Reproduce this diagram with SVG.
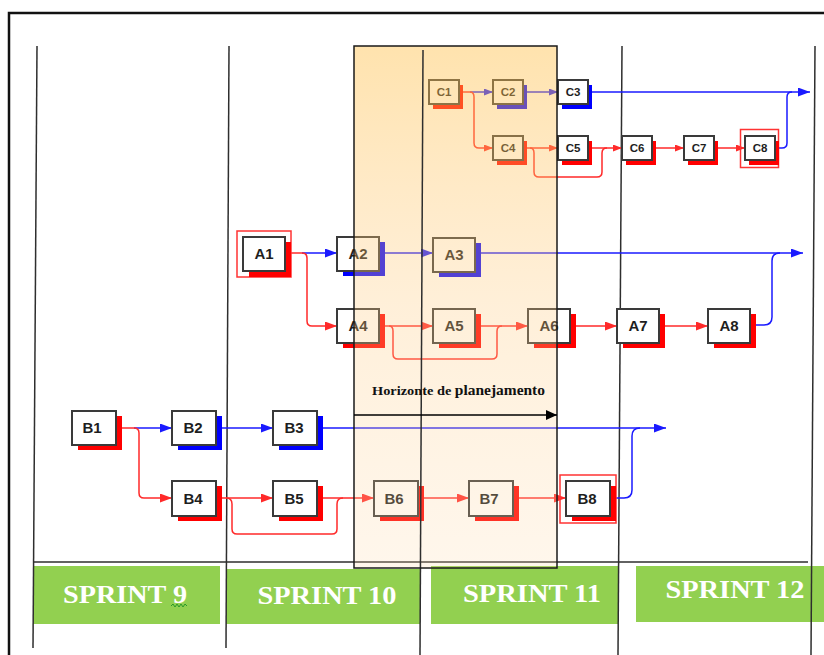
<svg xmlns="http://www.w3.org/2000/svg" width="824" height="655" viewBox="0 0 824 655">
<defs>
<style>
.box{fill:#ffffff;stroke:#3a3a3a;stroke-width:2}
.shR{fill:#ff0000}
.shB{fill:#0000ff}
.hl{fill:none;stroke:#ff3333;stroke-width:1.5}
.lbl{font-family:"Liberation Sans",Arial,sans-serif;font-weight:bold;font-size:15px;fill:#1e1e1e;text-anchor:middle}
.sm{font-size:11.5px}
.cr{fill:none;stroke:#ff2a2a;stroke-width:1.5}
.cb{fill:none;stroke:#1a1aff;stroke-width:1.5}
.vl{stroke:#2e2e2e;stroke-width:1.5}
.sp{fill:#92d050}
.spt{font-family:"Liberation Serif","Times New Roman",serif;font-weight:bold;font-size:25px;fill:#ffffff;text-anchor:middle}
</style>
<marker id="ar" markerUnits="userSpaceOnUse" markerWidth="12" markerHeight="9" refX="12" refY="4.5" orient="auto"><path d="M0,0 L12,4.5 L0,9 z" fill="#ff2a2a"/></marker>
<marker id="ab" markerUnits="userSpaceOnUse" markerWidth="12" markerHeight="9" refX="12" refY="4.5" orient="auto"><path d="M0,0 L12,4.5 L0,9 z" fill="#1a1aff"/></marker>
<marker id="ars" markerUnits="userSpaceOnUse" markerWidth="9" markerHeight="7" refX="9" refY="3.5" orient="auto"><path d="M0,0 L9,3.5 L0,7 z" fill="#ff2a2a"/></marker>
<marker id="abs" markerUnits="userSpaceOnUse" markerWidth="9" markerHeight="7" refX="9" refY="3.5" orient="auto"><path d="M0,0 L9,3.5 L0,7 z" fill="#1a1aff"/></marker>
<marker id="ak" markerUnits="userSpaceOnUse" markerWidth="11" markerHeight="10" refX="11" refY="5" orient="auto"><path d="M0,0 L11,5 L0,10 z" fill="#000"/></marker>
<linearGradient id="hz" x1="0" y1="0" x2="0" y2="1">
<stop offset="0" stop-color="#ffc04a" stop-opacity="0.45"/>
<stop offset="0.5" stop-color="#ffcb80" stop-opacity="0.3"/>
<stop offset="1" stop-color="#ffd9a8" stop-opacity="0.22"/>
</linearGradient>
</defs>
<rect x="0" y="0" width="824" height="655" fill="#ffffff"/>
<path d="M9,655 V13 H824" fill="none" stroke="#111" stroke-width="2.5"/>

<g id="sprints">
<rect class="sp" x="33" y="566" width="187" height="58"/>
<rect class="sp" x="226" y="569" width="194" height="55"/>
<rect class="sp" x="431" y="566" width="187" height="58"/>
<rect class="sp" x="636" y="566" width="188" height="56"/>
<text class="spt" x="125" y="603" textLength="124" lengthAdjust="spacingAndGlyphs">SPRINT 9</text>
<polyline points="171,606 173,604 175,607 177,604 179,607 181,604 183,607 185,604 187,606" fill="none" stroke="#2a9a2a" stroke-width="1"/>
<text class="spt" x="327" y="604" textLength="139" lengthAdjust="spacingAndGlyphs">SPRINT 10</text>
<text class="spt" x="532" y="602" textLength="138" lengthAdjust="spacingAndGlyphs">SPRINT 11</text>
<text class="spt" x="735" y="598" textLength="139" lengthAdjust="spacingAndGlyphs">SPRINT 12</text>
</g>

<g id="grid">
<line class="vl" x1="37" y1="46" x2="33" y2="648"/>
<line class="vl" x1="229" y1="46" x2="226" y2="648"/>
<line class="vl" x1="622" y1="46" x2="618" y2="655"/>
<line class="vl" x1="815" y1="46" x2="811" y2="655"/>
<line class="vl" x1="33" y1="562" x2="808" y2="562"/>
</g>

<g id="connectors">
<!-- C -->
<path class="cr" d="M459,92 H470"/>
<path class="cb" d="M470,92 H493" marker-end="url(#abs)"/>
<path class="cr" d="M470,92 Q474,92 474,97 V143 Q474,148 479,148 H493" marker-end="url(#ars)"/>
<path class="cb" d="M522,92 H558" marker-end="url(#abs)"/>
<path class="cb" d="M588,92 H810" marker-end="url(#ab)"/>
<path class="cb" d="M775,148 H782 Q787,148 787,143 V97 Q787,92 792,92"/>
<path class="cr" d="M522,148 H558" marker-end="url(#ars)"/>
<path class="cr" d="M530,148 Q534,148 534,153 V172 Q534,177 539,177 H597 Q602,177 602,172 V153 Q602,148 607,148"/>
<path class="cr" d="M588,148 H622" marker-end="url(#ars)"/>
<path class="cr" d="M652,148 H684" marker-end="url(#ars)"/>
<path class="cr" d="M714,148 H745" marker-end="url(#ars)"/>
<!-- A -->
<path class="cr" d="M285,253 H302"/>
<path class="cb" d="M302,253 H337" marker-end="url(#ab)"/>
<path class="cr" d="M302,253 Q307,253 307,258 V321 Q307,326 312,326 H337" marker-end="url(#ar)"/>
<path class="cb" d="M379,253 H433" marker-end="url(#ab)"/>
<path class="cb" d="M475,253 H803" marker-end="url(#ab)"/>
<path class="cb" d="M750,325 H764 Q772,325 772,317 V261 Q772,253 780,253"/>
<path class="cr" d="M379,326 H433" marker-end="url(#ar)"/>
<path class="cr" d="M389,326 Q393,326 393,331 V354 Q393,359 398,359 H492 Q497,359 497,354 V331 Q497,326 502,326"/>
<path class="cr" d="M475,326 H528" marker-end="url(#ar)"/>
<path class="cr" d="M570,326 H617" marker-end="url(#ar)"/>
<path class="cr" d="M659,326 H708" marker-end="url(#ar)"/>
<!-- B -->
<path class="cr" d="M116,428 H134"/>
<path class="cb" d="M134,428 H172" marker-end="url(#ab)"/>
<path class="cr" d="M134,428 Q139,428 139,433 V493 Q139,498 144,498 H172" marker-end="url(#ar)"/>
<path class="cb" d="M216,428 H273" marker-end="url(#ab)"/>
<path class="cb" d="M317,428 H666" marker-end="url(#ab)"/>
<path class="cb" d="M610,498 H624 Q632,498 632,490 V436 Q632,428 640,428"/>
<path class="cr" d="M216,498 H273" marker-end="url(#ar)"/>
<path class="cr" d="M226,498 Q232,498 232,504 V529 Q232,534 237,534 H332 Q337,534 337,529 V504 Q337,498 343,498"/>
<path class="cr" d="M317,498 H374" marker-end="url(#ar)"/>
<path class="cr" d="M418,498 H469" marker-end="url(#ar)"/>
<path class="cr" d="M513,498 H566" marker-end="url(#ar)"/>
</g>

<g id="C1"><rect class="shR" x="433" y="85" width="30" height="24"/><rect class="box" x="429" y="80" width="30" height="24"/><text class="lbl sm" x="444" y="96">C1</text></g>
<g id="C2"><rect class="shB" x="497" y="85" width="30" height="24"/><rect class="box" x="493" y="80" width="30" height="24"/><text class="lbl sm" x="508" y="96">C2</text></g>
<g id="C3"><rect class="shB" x="562" y="85" width="30" height="24"/><rect class="box" x="558" y="80" width="30" height="24"/><text class="lbl sm" x="573" y="96">C3</text></g>
<g id="C4"><rect class="shR" x="497" y="141" width="30" height="24"/><rect class="box" x="493" y="136" width="30" height="24"/><text class="lbl sm" x="508" y="152">C4</text></g>
<g id="C5"><rect class="shR" x="562" y="141" width="30" height="24"/><rect class="box" x="558" y="136" width="30" height="24"/><text class="lbl sm" x="573" y="152">C5</text></g>
<g id="C6"><rect class="shR" x="626" y="141" width="30" height="24"/><rect class="box" x="622" y="136" width="30" height="24"/><text class="lbl sm" x="637" y="152">C6</text></g>
<g id="C7"><rect class="shR" x="688" y="141" width="30" height="24"/><rect class="box" x="684" y="136" width="30" height="24"/><text class="lbl sm" x="699" y="152">C7</text></g>
<g id="C8"><rect class="hl" x="740.5" y="129.5" width="38" height="38"/><rect class="shR" x="749" y="141" width="30" height="24"/><rect class="box" x="745" y="136" width="30" height="24"/><text class="lbl sm" x="760" y="152">C8</text></g>

<g id="A1"><rect class="hl" x="237" y="231" width="54" height="46"/><rect class="shR" x="249" y="242" width="42" height="35"/><rect class="box" x="243" y="237" width="42" height="34"/><text class="lbl" x="264" y="259">A1</text></g>
<g id="A2"><rect class="shB" x="343" y="242" width="42" height="34"/><rect class="box" x="337" y="237" width="42" height="34"/><text class="lbl" x="358" y="259">A2</text></g>
<g id="A3"><rect class="shB" x="439" y="243" width="42" height="34"/><rect class="box" x="433" y="238" width="42" height="34"/><text class="lbl" x="454" y="260">A3</text></g>
<g id="A4"><rect class="shR" x="343" y="314" width="42" height="34"/><rect class="box" x="337" y="309" width="42" height="34"/><text class="lbl" x="358" y="331">A4</text></g>
<g id="A5"><rect class="shR" x="439" y="314" width="42" height="34"/><rect class="box" x="433" y="309" width="42" height="34"/><text class="lbl" x="454" y="331">A5</text></g>
<g id="A6"><rect class="shR" x="534" y="314" width="42" height="34"/><rect class="box" x="528" y="309" width="42" height="34"/><text class="lbl" x="549" y="331">A6</text></g>
<g id="A7"><rect class="shR" x="623" y="314" width="42" height="34"/><rect class="box" x="617" y="309" width="42" height="34"/><text class="lbl" x="638" y="331">A7</text></g>
<g id="A8"><rect class="shR" x="714" y="314" width="42" height="34"/><rect class="box" x="708" y="309" width="42" height="34"/><text class="lbl" x="729" y="331">A8</text></g>

<g id="B1"><rect class="shR" x="78" y="416" width="44" height="34"/><rect class="box" x="72" y="411" width="44" height="34"/><text class="lbl" x="92" y="433">B1</text></g>
<g id="B2"><rect class="shB" x="178" y="416" width="44" height="34"/><rect class="box" x="172" y="411" width="44" height="34"/><text class="lbl" x="193" y="433">B2</text></g>
<g id="B3"><rect class="shB" x="279" y="416" width="44" height="34"/><rect class="box" x="273" y="411" width="44" height="34"/><text class="lbl" x="294" y="433">B3</text></g>
<g id="B4"><rect class="shR" x="178" y="486" width="44" height="35"/><rect class="box" x="172" y="481" width="44" height="35"/><text class="lbl" x="193" y="504">B4</text></g>
<g id="B5"><rect class="shR" x="279" y="486" width="44" height="35"/><rect class="box" x="273" y="481" width="44" height="35"/><text class="lbl" x="294" y="504">B5</text></g>
<g id="B6"><rect class="shR" x="380" y="486" width="44" height="35"/><rect class="box" x="374" y="481" width="44" height="35"/><text class="lbl" x="394" y="504">B6</text></g>
<g id="B7"><rect class="shR" x="475" y="486" width="44" height="35"/><rect class="box" x="469" y="481" width="44" height="35"/><text class="lbl" x="489" y="504">B7</text></g>
<g id="B8"><rect class="hl" x="560" y="475" width="56" height="48"/><rect class="shR" x="572" y="486" width="44" height="35"/><rect class="box" x="566" y="481" width="44" height="35"/><text class="lbl" x="587" y="504">B8</text></g>

<g id="horizonte">
<rect x="354" y="46" width="203" height="522" fill="url(#hz)"/>
<line class="vl" x1="423" y1="50" x2="420" y2="655"/>
<rect x="354" y="46" width="203" height="522" fill="none" stroke="#1a1a1a" stroke-width="1.5"/>
<text x="372" y="395" font-family="'Liberation Serif','Times New Roman',serif" font-weight="bold" fill="#111" textLength="173" lengthAdjust="spacingAndGlyphs"><tspan font-size="13px">Horizonte de </tspan><tspan font-size="14px">planejamento</tspan></text>
<path d="M354,415 H557" fill="none" stroke="#000" stroke-width="1.5" marker-end="url(#ak)"/>
</g>
</svg>
